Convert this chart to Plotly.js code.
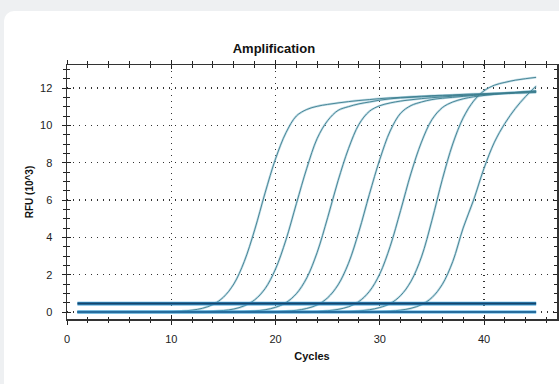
<!DOCTYPE html>
<html>
<head>
<meta charset="utf-8">
<script src="https://cdn.plot.ly/plotly-3.0.1.min.js"></script>
<style>
  html, body { margin: 0; padding: 0; width: 559px; height: 384px; overflow: hidden; background: #eef0f2; }
  #card { position: absolute; left: 4px; top: 11px; width: 620px; height: 420px; background: #ffffff; border-radius: 10px; }
  #chart { position: absolute; left: 0; top: 0; width: 559px; height: 384px; }
</style>
</head>
<body>
<div id="card"></div>
<div id="chart"></div>
<script>
// Cycle numbers
const cycles = [1,2,3,4,5,6,7,8,9,10,11,12,13,14,15,16,17,18,19,20,21,22,23,24,25,26,27,28,29,30,31,32,33,34,35,36,37,38,39,40,41,42,43,44,45];

// RFU (10^3) per cycle for each amplification curve
const well1 = [0,0,0,0,0,0,0,0.01,0.01,0.02,0.05,0.10,0.20,0.40,0.79,1.50,2.70,4.40,6.38,8.20,9.60,10.50,10.85,11.02,11.12,11.20,11.27,11.33,11.38,11.43,11.47,11.50,11.53,11.56,11.59,11.61,11.63,11.66,11.68,11.70,11.72,11.74,11.76,11.78,11.80];
const well2 = [0,0,0,0,0,0,0,0,0,0,0.01,0.01,0.02,0.04,0.08,0.16,0.33,0.65,1.25,2.30,3.86,5.80,7.70,9.30,10.25,10.80,11.00,11.15,11.25,11.35,11.42,11.47,11.50,11.53,11.56,11.58,11.60,11.62,11.64,11.66,11.68,11.70,11.72,11.74,11.76];
const well3 = [0,0,0,0,0,0,0,0,0,0,0,0,0,0.01,0.01,0.02,0.03,0.06,0.12,0.25,0.50,0.98,1.83,3.20,5.05,7.03,8.75,10.05,10.75,11.05,11.20,11.30,11.37,11.43,11.48,11.52,11.56,11.60,11.63,11.66,11.69,11.72,11.75,11.78,11.80];
const well4 = [0,0,0,0,0,0,0,0,0,0,0,0,0,0,0,0,0.01,0.01,0.01,0.02,0.05,0.09,0.19,0.38,0.76,1.45,2.61,4.31,6.30,8.17,9.70,10.65,11.06,11.25,11.38,11.45,11.50,11.55,11.60,11.64,11.68,11.72,11.76,11.80,11.84];
const well5 = [0,0,0,0,0,0,0,0,0,0,0,0,0,0,0,0,0,0,0,0,0.01,0.01,0.02,0.03,0.07,0.14,0.28,0.56,1.10,2.04,3.52,5.44,7.44,9.10,10.30,10.95,11.25,11.42,11.53,11.60,11.66,11.71,11.76,11.80,11.84];
const well6 = [0,0,0,0,0,0,0,0,0,0,0,0,0,0,0,0,0,0,0,0,0,0,0,0.01,0.01,0.02,0.03,0.06,0.12,0.24,0.45,0.88,1.65,2.95,4.90,7.10,9.00,10.40,11.30,11.85,12.15,12.30,12.42,12.50,12.57];
const well7 = [0,0,0,0,0,0,0,0,0,0,0,0,0,0,0,0,0,0,0,0,0,0,0,0,0,0,0.01,0.01,0.02,0.03,0.05,0.10,0.20,0.39,0.77,1.48,2.70,4.50,6.00,7.70,9.10,10.10,10.90,11.55,12.10];

// Horizontal lines (threshold and zero baseline)
const lineCycles = [1, 45];
const thresholdRFU = [0.45, 0.45];
const baselineRFU = [0, 0];

// Axis tick labels
const xTickVals = [0, 10, 20, 30, 40];
const xTickText = ['0', '10', '20', '30', '40'];
const yTickVals = [0, 2, 4, 6, 8, 10, 12];
const yTickText = ['0', '2', '4', '6', '8', '10', '12'];

const wells = [well1, well2, well3, well4, well5, well6, well7];

const traces = [];
wells.forEach(w => {
  traces.push({x: cycles, y: w, mode: 'lines', hoverinfo: 'skip', showlegend: false,
    line: {color: 'rgba(140,192,210,0.55)', width: 2.3, shape: 'spline', smoothing: 1}});
});
wells.forEach(w => {
  traces.push({x: cycles, y: w, mode: 'lines', hoverinfo: 'skip', showlegend: false,
    line: {color: '#3b7d8d', width: 0.9, shape: 'spline', smoothing: 1}});
});
// threshold line
traces.push({x: lineCycles, y: thresholdRFU, mode: 'lines', hoverinfo: 'skip', showlegend: false,
  line: {color: '#3a9ed6', width: 3.6}});
traces.push({x: lineCycles, y: thresholdRFU, mode: 'lines', hoverinfo: 'skip', showlegend: false,
  line: {color: '#16456c', width: 2.0}});
// zero baseline (on overlay axes to create them)
traces.push({x: lineCycles, y: baselineRFU, xaxis: 'x2', yaxis: 'y2', mode: 'lines', hoverinfo: 'skip', showlegend: false,
  line: {color: '#45a8e0', width: 3.0}});
traces.push({x: lineCycles, y: baselineRFU, xaxis: 'x2', yaxis: 'y2', mode: 'lines', hoverinfo: 'skip', showlegend: false,
  line: {color: '#1d5a88', width: 1.5}});

const xr = [0, 47.0];
const yr = [-0.375, 13.232];
const tickFont = {family: 'Liberation Sans, Arial, sans-serif', size: 11, color: '#222'};

const layout = {
  width: 559, height: 384,
  margin: {l: 67, r: 2, t: 65, b: 65},
  paper_bgcolor: 'rgba(0,0,0,0)',
  plot_bgcolor: 'rgba(0,0,0,0)',
  title: {text: 'Amplification', font: {family: 'Liberation Sans, Arial, sans-serif', size: 13, color: '#111', weight: 'bold'},
    x: 0.49, xref: 'container', xanchor: 'center', y: 0.873, yref: 'container', yanchor: 'middle'},
  xaxis: {
    range: xr, tickmode: 'array', tickvals: xTickVals, ticktext: xTickText,
    ticks: 'outside', ticklen: 4, tickwidth: 1, tickcolor: '#222',
    minor: {dtick: 2, tick0: 0, ticks: 'outside', ticklen: 2.5, tickcolor: '#222', showgrid: false},
    showline: true, linecolor: '#333', linewidth: 1.5, mirror: 'allticks',
    showgrid: true, gridcolor: '#333', gridwidth: 1.3, griddash: '1.3px,4.7px',
    zeroline: false, tickfont: tickFont, ticklabelstandoff: 5,
    title: {text: 'Cycles', font: {family: 'Liberation Sans, Arial, sans-serif', size: 11, color: '#111', weight: 'bold'}, standoff: 8},
    fixedrange: true
  },
  yaxis: {
    range: yr, tickmode: 'array', tickvals: yTickVals, ticktext: yTickText,
    ticks: 'outside', ticklen: 4, tickwidth: 1, tickcolor: '#222',
    minor: {dtick: 0.5, tick0: 0, ticks: 'outside', ticklen: 3, tickcolor: '#222', showgrid: false},
    showline: true, linecolor: '#333', linewidth: 1.5, mirror: 'allticks',
    showgrid: true, gridcolor: '#333', gridwidth: 1.3, griddash: '1.3px,4.7px',
    zeroline: false, tickfont: tickFont, ticklabelstandoff: 7,
    title: {text: 'RFU (10^3)', font: {family: 'Liberation Sans, Arial, sans-serif', size: 10, color: '#111', weight: 'bold'}, standoff: 4},
    fixedrange: true
  },
  xaxis2: {
    range: xr, overlaying: 'x', anchor: 'y2', side: 'bottom',
    tickmode: 'array', tickvals: xTickVals, ticks: 'inside', ticklen: 4, tickcolor: '#222',
    minor: {dtick: 2, tick0: 0, ticks: 'inside', ticklen: 2.5, tickcolor: '#222', showgrid: false},
    showticklabels: false, showgrid: false, zeroline: false, showline: false, mirror: 'allticks', fixedrange: true
  },
  yaxis2: {
    range: yr, overlaying: 'y', anchor: 'x2', side: 'left',
    tickmode: 'array', tickvals: yTickVals, ticks: 'inside', ticklen: 4, tickcolor: '#222',
    minor: {dtick: 0.5, tick0: 0, ticks: 'inside', ticklen: 3, tickcolor: '#222', showgrid: false},
    showticklabels: false, showgrid: false, zeroline: false, showline: false, mirror: 'allticks', fixedrange: true
  }
};

Plotly.newPlot('chart', traces, layout, {displayModeBar: false, staticPlot: true});
</script>
</body>
</html>
